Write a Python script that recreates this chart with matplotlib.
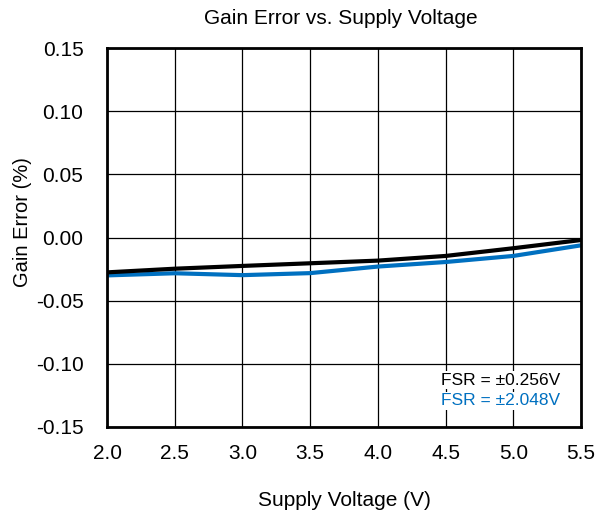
import matplotlib
matplotlib.use("Agg")
import matplotlib.pyplot as plt
import numpy as np

plt.rcParams['font.family'] = ['Liberation Sans', 'DejaVu Sans']

voltage = [2.0, 2.5, 3.0, 3.5, 4.0, 4.5, 5.0, 5.5]
err_0256 = [-0.0276, -0.0247, -0.0225, -0.0204, -0.0183, -0.0146, -0.0085, -0.0020]
err_2048 = [-0.0300, -0.0283, -0.0298, -0.0282, -0.0230, -0.0194, -0.0146, -0.0062]
labels = ["FSR = \u00b10.256V", "FSR = \u00b12.048V"]
colors = ["#000000", "#0070C0"]

W, H = 600, 514
fig = plt.figure(figsize=(W/100, H/100), dpi=100)
ax = fig.add_axes([107/W, 1-427/H, (581-107)/W, (427-48)/H])

ax.plot(voltage, err_2048, color=colors[1], lw=3.0, solid_capstyle='butt')
ax.plot(voltage, err_0256, color=colors[0], lw=3.0, solid_capstyle='butt')

ax.set_xlim(2.0, 5.5)
ax.set_ylim(-0.15, 0.15)
ax.set_xticks(np.arange(2.0, 5.51, 0.5))
ax.set_yticks(np.arange(-0.15, 0.151, 0.05))
ax.set_xticklabels([f"{v:.1f}" for v in np.arange(2.0, 5.51, 0.5)])
ax.set_yticklabels([f"{v:.2f}" if abs(v) > 1e-9 else "0.00" for v in np.arange(-0.15, 0.151, 0.05)])
ax.tick_params(length=0, labelsize=15)
ax.tick_params(axis='x', pad=12)
ax.tick_params(axis='y', pad=17)
ax.grid(True, color='black', lw=0.9)
for s in ax.spines.values():
    s.set_linewidth(2)
    s.set_color('black')

fig.text(341/W, 1-19/H, "Gain Error vs. Supply Voltage", fontsize=15, ha='center', va='center')
fig.text(344/W, 1-501/H, "Supply Voltage (V)", fontsize=15, ha='center', va='center')
fig.text(23/W, 1-222/H, "Gain Error (%)", fontsize=14.5, ha='center', va='center', rotation=90)

ax.text(0.956, 0.124, labels[0], transform=ax.transAxes, ha='right', va='center', fontsize=12.5, color=colors[0],
        bbox=dict(facecolor='white', edgecolor='none', pad=1))
ax.text(0.956, 0.069, labels[1], transform=ax.transAxes, ha='right', va='center', fontsize=12.5, color=colors[1],
        bbox=dict(facecolor='white', edgecolor='none', pad=1))

fig.savefig("out.png", dpi=100)
